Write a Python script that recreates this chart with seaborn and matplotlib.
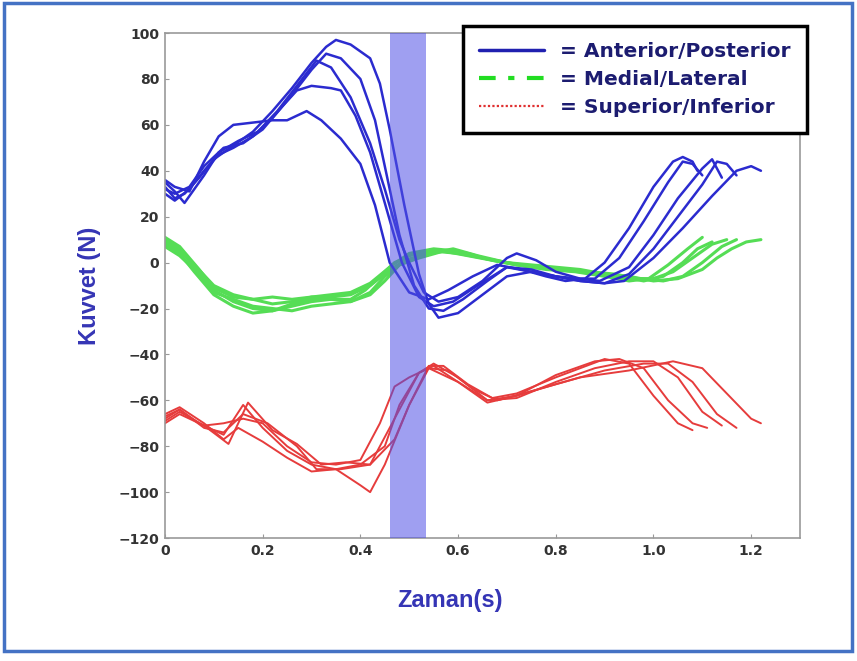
import matplotlib
matplotlib.use("Agg")
import matplotlib.pyplot as plt
from matplotlib.lines import Line2D
from matplotlib.patches import Rectangle
import numpy as np
import pandas as pd
import seaborn as sns

# --- data (time in s, force in N) ---
ap1_t = [0, 0.02, 0.04, 0.07, 0.10, 0.14, 0.18, 0.22, 0.26, 0.30, 0.33, 0.35, 0.38, 0.42, 0.44, 0.46, 0.49, 0.52, 0.54, 0.56, 0.60, 0.65, 0.70, 0.75, 0.80, 0.85, 0.90, 0.94, 1.00, 1.06, 1.12, 1.17, 1.20, 1.22]
ap1_v = [33, 28, 30, 37, 45, 51, 57, 66, 76, 87, 94, 97, 95, 89, 78, 58, 25, -5, -18, -24, -22, -14, -6, -4, -6, -8, -9, -8, 2, 15, 29, 40, 42, 40]
ap2_t = [0, 0.02, 0.05, 0.08, 0.11, 0.14, 0.18, 0.22, 0.26, 0.30, 0.33, 0.36, 0.40, 0.43, 0.46, 0.48, 0.51, 0.54, 0.57, 0.61, 0.66, 0.70, 0.75, 0.80, 0.85, 0.90, 0.95, 1.00, 1.05, 1.10, 1.13, 1.15, 1.17]
ap2_v = [30, 27, 32, 40, 47, 50, 55, 63, 73, 84, 91, 89, 80, 62, 32, 12, -10, -20, -21, -16, -8, -2, -4, -6, -8, -9, -5, 6, 20, 34, 44, 43, 38]
ap3_t = [0, 0.02, 0.04, 0.08, 0.11, 0.15, 0.19, 0.23, 0.27, 0.31, 0.34, 0.38, 0.42, 0.45, 0.48, 0.50, 0.53, 0.56, 0.60, 0.65, 0.70, 0.72, 0.76, 0.80, 0.85, 0.89, 0.95, 1.00, 1.05, 1.10, 1.12, 1.14]
ap3_v = [35, 31, 26, 38, 48, 53, 57, 66, 77, 88, 85, 72, 52, 32, 10, 0, -13, -17, -15, -8, 2, 4, 1, -4, -7, -8, -2, 12, 28, 41, 45, 37]
ap4_t = [0, 0.02, 0.05, 0.08, 0.12, 0.16, 0.20, 0.24, 0.27, 0.30, 0.34, 0.36, 0.39, 0.42, 0.45, 0.485, 0.52, 0.55, 0.59, 0.64, 0.70, 0.75, 0.80, 0.85, 0.88, 0.93, 0.98, 1.03, 1.06, 1.08, 1.10]
ap4_v = [32, 30, 33, 42, 50, 52, 58, 68, 75, 77, 76, 75, 64, 48, 26, 0, -15, -19, -17, -10, -2, -3, -6, -7, -7, 2, 18, 35, 44, 43, 38]
ap5_t = [0, 0.02, 0.05, 0.08, 0.11, 0.14, 0.18, 0.22, 0.25, 0.29, 0.32, 0.36, 0.40, 0.43, 0.46, 0.50, 0.54, 0.58, 0.63, 0.68, 0.73, 0.78, 0.82, 0.86, 0.90, 0.95, 1.00, 1.04, 1.06, 1.08, 1.09]
ap5_v = [36, 33, 31, 44, 55, 60, 61, 62, 62, 66, 62, 54, 43, 25, 0, -13, -16, -12, -6, -1, -3, -6, -8, -7, 0, 15, 33, 44, 46, 44, 40]

ml1_t = [0, 0.03, 0.06, 0.10, 0.14, 0.18, 0.22, 0.26, 0.30, 0.34, 0.38, 0.41, 0.44, 0.47, 0.50, 0.55, 0.60, 0.65, 0.70, 0.75, 0.80, 0.85, 0.90, 0.95, 1.00, 1.05, 1.10, 1.13, 1.16, 1.19, 1.22]
ml1_v = [10, 6, -2, -12, -17, -20, -21, -19, -17, -16, -16, -12, -6, 0, 3, 5, 4, 2, 0, -2, -3, -4, -5, -6, -8, -7, -3, 2, 6, 9, 10]
ml2_t = [0, 0.03, 0.06, 0.10, 0.14, 0.18, 0.22, 0.26, 0.30, 0.34, 0.38, 0.42, 0.45, 0.48, 0.52, 0.57, 0.62, 0.67, 0.72, 0.77, 0.82, 0.87, 0.92, 0.97, 1.02, 1.06, 1.10, 1.14, 1.17]
ml2_v = [8, 4, -4, -14, -19, -22, -21, -18, -16, -16, -17, -14, -8, -1, 3, 5, 3, 1, -1, -2, -3, -4, -5, -7, -8, -6, 0, 7, 10]
ml3_t = [0, 0.03, 0.07, 0.10, 0.14, 0.18, 0.22, 0.26, 0.30, 0.34, 0.38, 0.42, 0.46, 0.50, 0.55, 0.60, 0.65, 0.70, 0.75, 0.80, 0.85, 0.90, 0.95, 1.00, 1.04, 1.08, 1.12, 1.15]
ml3_v = [11, 7, -3, -11, -15, -16, -18, -17, -15, -14, -13, -9, -2, 4, 6, 5, 2, 0, -1, -2, -3, -5, -7, -7, -4, 2, 8, 10]
ml4_t = [0, 0.03, 0.06, 0.10, 0.14, 0.18, 0.22, 0.26, 0.30, 0.34, 0.38, 0.42, 0.45, 0.49, 0.54, 0.59, 0.64, 0.70, 0.76, 0.82, 0.88, 0.93, 0.98, 1.02, 1.06, 1.09, 1.12]
ml4_v = [9, 5, -1, -10, -14, -16, -15, -16, -15, -15, -14, -10, -5, 1, 4, 6, 3, 0, -2, -3, -5, -6, -8, -6, 0, 6, 9]
ml5_t = [0, 0.03, 0.06, 0.10, 0.14, 0.18, 0.22, 0.26, 0.30, 0.34, 0.38, 0.42, 0.45, 0.48, 0.52, 0.57, 0.62, 0.67, 0.72, 0.78, 0.84, 0.90, 0.95, 0.99, 1.03, 1.07, 1.10]
ml5_v = [7, 3, -3, -13, -16, -19, -20, -21, -19, -18, -17, -13, -6, -1, 2, 5, 4, 1, -1, -3, -4, -6, -8, -7, -1, 6, 11]

si1_t = [0, 0.03, 0.07, 0.12, 0.16, 0.20, 0.25, 0.30, 0.35, 0.40, 0.42, 0.45, 0.50, 0.54, 0.57, 0.62, 0.67, 0.72, 0.80, 0.85, 0.90, 0.95, 1.00, 1.05, 1.08]
si1_v = [-68, -64, -70, -75, -62, -72, -82, -88, -90, -97, -100, -88, -62, -45, -45, -53, -59, -57, -50, -46, -42, -44, -58, -70, -73]
si2_t = [0, 0.03, 0.08, 0.12, 0.15, 0.20, 0.25, 0.30, 0.35, 0.40, 0.45, 0.48, 0.52, 0.55, 0.60, 0.66, 0.72, 0.80, 0.88, 0.93, 0.98, 1.03, 1.08, 1.11]
si2_v = [-66, -63, -70, -77, -72, -78, -85, -91, -90, -88, -80, -62, -48, -44, -50, -60, -58, -49, -43, -42, -46, -60, -70, -72]
si3_t = [0, 0.03, 0.08, 0.12, 0.16, 0.20, 0.25, 0.30, 0.35, 0.40, 0.44, 0.47, 0.50, 0.54, 0.60, 0.66, 0.72, 0.80, 0.88, 0.95, 1.00, 1.05, 1.10, 1.14]
si3_v = [-70, -66, -71, -70, -68, -70, -80, -87, -88, -86, -70, -54, -50, -46, -52, -60, -59, -52, -46, -43, -43, -50, -65, -71]
si4_t = [0, 0.03, 0.08, 0.13, 0.17, 0.22, 0.27, 0.32, 0.37, 0.42, 0.47, 0.52, 0.55, 0.60, 0.66, 0.72, 0.80, 0.90, 0.98, 1.03, 1.08, 1.13, 1.17]
si4_v = [-69, -65, -71, -79, -61, -73, -79, -88, -87, -88, -68, -48, -45, -52, -61, -58, -53, -47, -44, -44, -52, -66, -72]
si5_t = [0, 0.03, 0.08, 0.12, 0.16, 0.21, 0.27, 0.31, 0.36, 0.42, 0.47, 0.50, 0.54, 0.58, 0.63, 0.68, 0.75, 0.85, 0.95, 1.04, 1.10, 1.15, 1.20, 1.22]
si5_v = [-67, -64, -72, -74, -66, -70, -80, -90, -90, -88, -77, -62, -46, -47, -55, -60, -56, -50, -47, -43, -46, -57, -68, -70]

band_start, band_end = 0.46, 0.535
x_ticks = [0, 0.2, 0.4, 0.6, 0.8, 1.0, 1.2]
x_tick_labels = ["0", "0.2", "0.4", "0.6", "0.8", "1.0", "1.2"]
y_ticks = [-120, -100, -80, -60, -40, -20, 0, 20, 40, 60, 80, 100]
legend_labels = ["= Anterior/Posterior", "= Medial/Lateral", "= Superior/Inferior"]

trials = {
    "ML": [(ml1_t, ml1_v), (ml2_t, ml2_v), (ml3_t, ml3_v), (ml4_t, ml4_v), (ml5_t, ml5_v)],
    "AP": [(ap1_t, ap1_v), (ap2_t, ap2_v), (ap3_t, ap3_v), (ap4_t, ap4_v), (ap5_t, ap5_v)],
    "SI": [(si1_t, si1_v), (si2_t, si2_v), (si3_t, si3_v), (si4_t, si4_v), (si5_t, si5_v)],
}
rows = []
for comp, lst in trials.items():
    for i, (tt, vv) in enumerate(lst):
        for a, b in zip(tt, vv):
            rows.append((comp, f"{comp}{i}", a, b))
df = pd.DataFrame(rows, columns=["comp", "trial", "t", "force"])

sns.set_style("ticks")
fig = plt.figure(figsize=(8.57, 6.61), dpi=100)
ax = fig.add_axes([0.1925, 0.186, 0.741, 0.764])

colors = {"ML": "#55dd55", "AP": "#2b2bcf", "SI": "#e63c3c"}
widths = {"ML": 2.2, "AP": 1.8, "SI": 1.4}
for comp in ["ML", "AP", "SI"]:
    sns.lineplot(data=df[df.comp == comp], x="t", y="force", units="trial",
                 estimator=None, sort=False, color=colors[comp],
                 lw=widths[comp], ax=ax, legend=False)

ax.axvspan(band_start, band_end, color="#5050e6", alpha=0.55, lw=0, zorder=5)

ax.set_xlim(0, 1.3)
ax.set_ylim(-120, 100)
ax.set_xticks(x_ticks)
ax.set_xticklabels(x_tick_labels)
ax.set_yticks(y_ticks)
ax.set_xlabel("")
ax.set_ylabel("Kuvvet (N)", fontsize=17, fontweight="bold", color="#3535b5",
              family="Liberation Sans", labelpad=20)
ax.yaxis.set_label_coords(-0.1, 0.5)
ax.tick_params(direction="in", length=3, color="#999999", labelsize=10,
               labelcolor="#333333", pad=4)
for lab in ax.get_xticklabels() + ax.get_yticklabels():
    lab.set_fontweight("bold")
for s in ax.spines.values():
    s.set_color("#999999")
    s.set_linewidth(1.2)

fig.text(450 / 857, 1 - 600 / 661, "Zaman(s)", ha="center", va="center",
         fontsize=17, fontweight="bold", color="#3535b5", family="Liberation Sans")

handles = [Line2D([], [], color="#2020b0", lw=2.5),
           Line2D([], [], color="#22dd22", lw=3, linestyle=(0, (4, 3, 1.5, 3))),
           Line2D([], [], color="#e03030", lw=1.6, linestyle=(0, (1, 1)))]
leg = fig.legend(handles, legend_labels, loc="upper right",
                 bbox_to_anchor=(807 / 857, 1 - 26 / 661), borderaxespad=0,
                 frameon=True, fancybox=False, handlelength=3.25,
                 handletextpad=0.8, borderpad=0.8, labelspacing=0.45,
                 prop={"family": "DejaVu Sans", "weight": "bold", "size": 14.5})
leg.get_frame().set_edgecolor("black")
leg.get_frame().set_linewidth(2.5)
leg.get_frame().set_alpha(1)
for txt in leg.get_texts():
    txt.set_color("#1c1c70")

fig.patches.append(Rectangle((4 / 857, 1 - 651 / 661), 848 / 857, 648 / 661,
                             transform=fig.transFigure, fill=False,
                             edgecolor="#4472c4", lw=2.5))

fig.savefig("out.png", dpi=100)
